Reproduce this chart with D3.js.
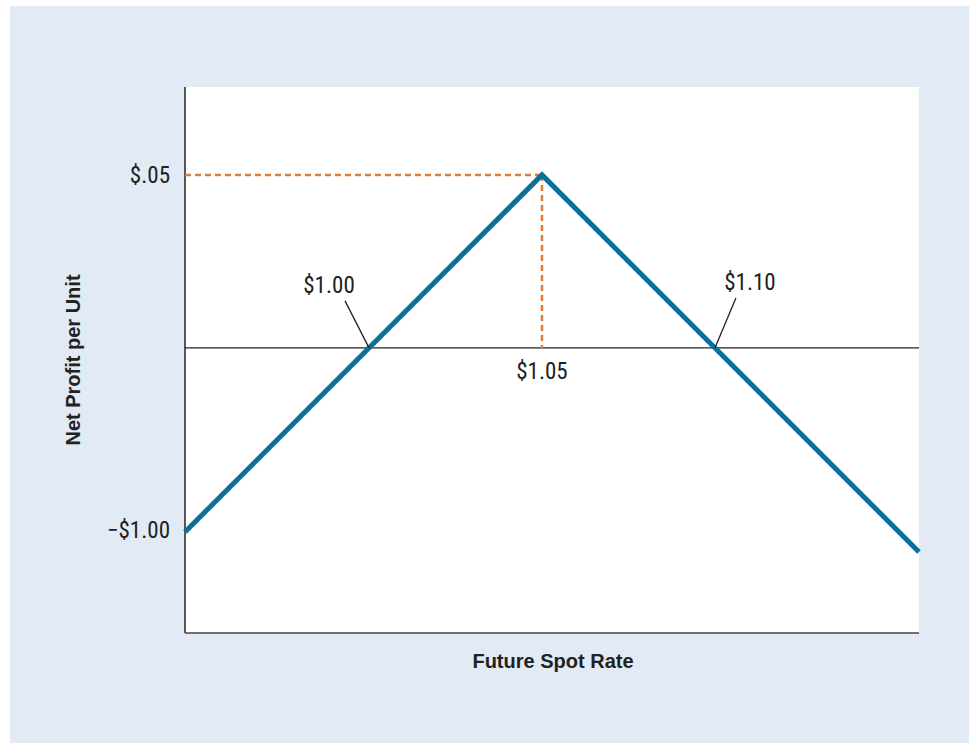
<!DOCTYPE html>
<html><head><meta charset="utf-8">
<script src="https://cdn.jsdelivr.net/npm/d3@7"></script>
<style>
body{margin:0;background:#fff;}
text{font-family:"Liberation Sans Narrow","Roboto Condensed","Liberation Sans",Arial,sans-serif;}
text.title{font-family:"Liberation Sans",Arial,sans-serif;}
</style></head>
<body><svg id="c" width="969" height="743"></svg>
<script>
// Data
const spotRates = [0.9468, 1.05, 1.159];
const netProfit = [-0.0532, 0.05, -0.059];
const yTickValues = [0.05, -0.0526];
const yTickLabels = ["$.05", "\u2212$1.00"];
const breakEvenRates = [1.00, 1.10];
const breakEvenLabels = ["$1.00", "$1.10"];
const peakRate = 1.05, peakProfit = 0.05, peakLabel = "$1.05";
const xTitle = "Future Spot Rate", yTitle = "Net Profit per Unit";

const svg = d3.select("#c");
svg.append("rect").attr("x",10).attr("y",6).attr("width",959).attr("height",737).attr("fill","#e1eaf5");
const L=185,R=919,T=87,B=633;
svg.append("rect").attr("x",L).attr("y",T).attr("width",R-L).attr("height",B-T).attr("fill","#fff");

const x = d3.scaleLinear().domain([0.9468,1.159]).range([L,R]);
const y = d3.scaleLinear().domain([-0.0824,0.0754]).range([B,T]);

// axes
const ya = svg.append("g").attr("transform",`translate(${L},0)`)
  .call(d3.axisLeft(y).tickValues(yTickValues).tickSize(0).tickPadding(15).tickFormat((d,i)=>yTickLabels[i]));
ya.select(".domain").attr("stroke","#222").attr("stroke-width",1.5).attr("d",`M0,${T}V${B}`);
ya.selectAll("text").attr("font-size",23).attr("fill","#222")
  .attr("font-family",'"Liberation Sans Narrow","Roboto Condensed","Liberation Sans",Arial,sans-serif');
svg.append("line").attr("x1",L).attr("x2",R).attr("y1",B).attr("y2",B).attr("stroke","#444").attr("stroke-width",1.5);

// zero line
svg.append("line").attr("x1",L).attr("x2",R).attr("y1",y(0)).attr("y2",y(0)).attr("stroke","#222").attr("stroke-width",1.2);

// orange dashed guides
const dash = "6,4";
svg.append("line").attr("x1",L).attr("x2",x(peakRate)).attr("y1",y(peakProfit)).attr("y2",y(peakProfit))
  .attr("stroke","#e07b39").attr("stroke-width",2.5).attr("stroke-dasharray",dash);
svg.append("line").attr("x1",x(peakRate)).attr("x2",x(peakRate)).attr("y1",y(peakProfit)).attr("y2",y(0))
  .attr("stroke","#e07b39").attr("stroke-width",2.5).attr("stroke-dasharray",dash);

// profit line
svg.append("path").datum(spotRates.map((s,i)=>[s,netProfit[i]]))
  .attr("d",d3.line().x(d=>x(d[0])).y(d=>y(d[1])))
  .attr("fill","none").attr("stroke","#0a7099").attr("stroke-width",5).attr("stroke-linejoin","miter");

// break-even callouts
const offs = [{lx:-24,ly:-47,tx:-40,ty:-55},{lx:21,ly:-50,tx:35,ty:-58}];
breakEvenRates.forEach((r,i)=>{
  const px=x(r), py=y(0), o=offs[i];
  svg.append("line").attr("x1",px).attr("y1",py).attr("x2",px+o.lx).attr("y2",py+o.ly).attr("stroke","#222").attr("stroke-width",1.3);
  svg.append("text").attr("x",px+o.tx).attr("y",py+o.ty).attr("text-anchor","middle").attr("font-size",23).attr("fill","#222").text(breakEvenLabels[i]);
});
svg.append("text").attr("x",x(peakRate)).attr("y",y(0)+31).attr("text-anchor","middle").attr("font-size",23).attr("fill","#222").text(peakLabel);

// titles
svg.append("text").attr("class","title").attr("x",553).attr("y",668).attr("text-anchor","middle").attr("font-size",20).attr("font-weight","bold").attr("fill","#222").text(xTitle);
svg.append("text").attr("class","title").attr("transform",`translate(80,${(T+B)/2}) rotate(-90)`).attr("text-anchor","middle").attr("font-size",20).attr("font-weight","bold").attr("fill","#222").text(yTitle);
</script></body></html>
